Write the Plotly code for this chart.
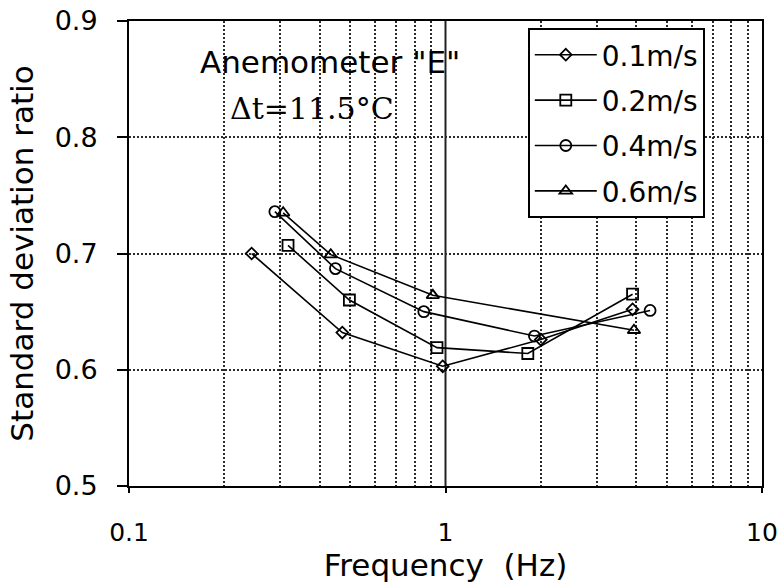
import plotly.graph_objects as go

# Measured standard deviation ratio vs. frequency for four wind speeds
speed_labels = ["0.1m/s", "0.2m/s", "0.4m/s", "0.6m/s"]

freq_01 = [0.244, 0.472, 0.98, 2.0, 3.9]
ratio_01 = [0.700, 0.632, 0.603, 0.626, 0.652]

freq_02 = [0.318, 0.497, 0.94, 1.82, 3.9]
ratio_02 = [0.707, 0.660, 0.619, 0.614, 0.665]

freq_04 = [0.289, 0.449, 0.854, 1.91, 4.43]
ratio_04 = [0.736, 0.687, 0.650, 0.629, 0.651]

freq_06 = [0.307, 0.434, 0.912, 3.94]
ratio_06 = [0.735, 0.699, 0.664, 0.634]

x_major = [0.1, 1, 10]
x_major_text = ["0.1", "1", "10"]
x_minor = [m * d for d in (0.1, 1) for m in range(2, 10)]
y_ticks = [0.5, 0.6, 0.7, 0.8, 0.9]

SANS = "DejaVu Sans, Liberation Sans, Arial"
SERIF = "DejaVu Serif, Liberation Serif, Times New Roman"
GRID = "#2a2a2a"

series = [
    (freq_01, ratio_01, "diamond-open", 9),
    (freq_02, ratio_02, "square-open", 11),
    (freq_04, ratio_04, "circle-open", 11),
    (freq_06, ratio_06, "triangle-up-open", 11),
]

fig = go.Figure()
for i, (fx, ry, sym, sz) in enumerate(series):
    fig.add_trace(go.Scatter(
        x=fx, y=ry, mode="lines+markers", name=speed_labels[i],
        legendgroup=str(i),
        line=dict(color="black", width=1.6),
        marker=dict(symbol=sym, size=sz, color="black",
                    line=dict(color="black", width=1.8)),
    ))

# solid decade gridline at 1 Hz
fig.add_vline(x=1, line=dict(color="#222", width=2), layer="below")

fig.add_annotation(text='Anemometer "E"', x=0.3175, y=0.911, xref="paper", yref="paper",
                   xanchor="center", yanchor="middle", showarrow=False,
                   font=dict(family=SANS, size=31, color="black"))
fig.add_annotation(text="Δt=11.5°C", x=0.289, y=0.812, xref="paper", yref="paper",
                   xanchor="center", yanchor="middle", showarrow=False,
                   font=dict(family=SERIF, size=30, color="black"))

fig.update_layout(
    width=783, height=584,
    margin=dict(l=129, r=21, t=21, b=98, autoexpand=False),
    paper_bgcolor="white", plot_bgcolor="white",
    font=dict(family=SANS, size=27, color="black"),
    showlegend=True,
    legend=dict(x=0.630, y=0.985, xanchor="left", yanchor="top",
                bordercolor="black", borderwidth=2, bgcolor="white",
                font=dict(size=28), tracegroupgap=6, traceorder="grouped",
                itemwidth=62),
    xaxis=dict(
        type="log", range=[-1, 1], automargin=False,
        tickvals=x_major, ticktext=x_major_text, tickfont=dict(size=25),
        ticks="outside", ticklen=5, tickwidth=1.5, tickcolor="black",
        ticklabelstandoff=18,
        showline=True, linecolor="black", linewidth=2, mirror=True,
        showgrid=False, zeroline=False,
        minor=dict(tickvals=x_minor, showgrid=True, gridcolor=GRID,
                   griddash="2px,2px", gridwidth=1.6, ticks=""),
        title=dict(text="Frequency  (Hz)", standoff=8, font=dict(size=31)),
    ),
    yaxis=dict(
        range=[0.5, 0.9], tickvals=y_ticks, tickformat=".1f", automargin=False,
        ticks="outside", ticklen=10, tickwidth=1.5, tickcolor="black",
        ticklabelstandoff=14,
        showline=True, linecolor="black", linewidth=2, mirror=True,
        showgrid=True, gridcolor=GRID, griddash="2px,2px", gridwidth=1.6,
        zeroline=False,
        title=dict(text="Standard deviation ratio", standoff=12, font=dict(size=31)),
    ),
)

fig.write_html("out.html")
